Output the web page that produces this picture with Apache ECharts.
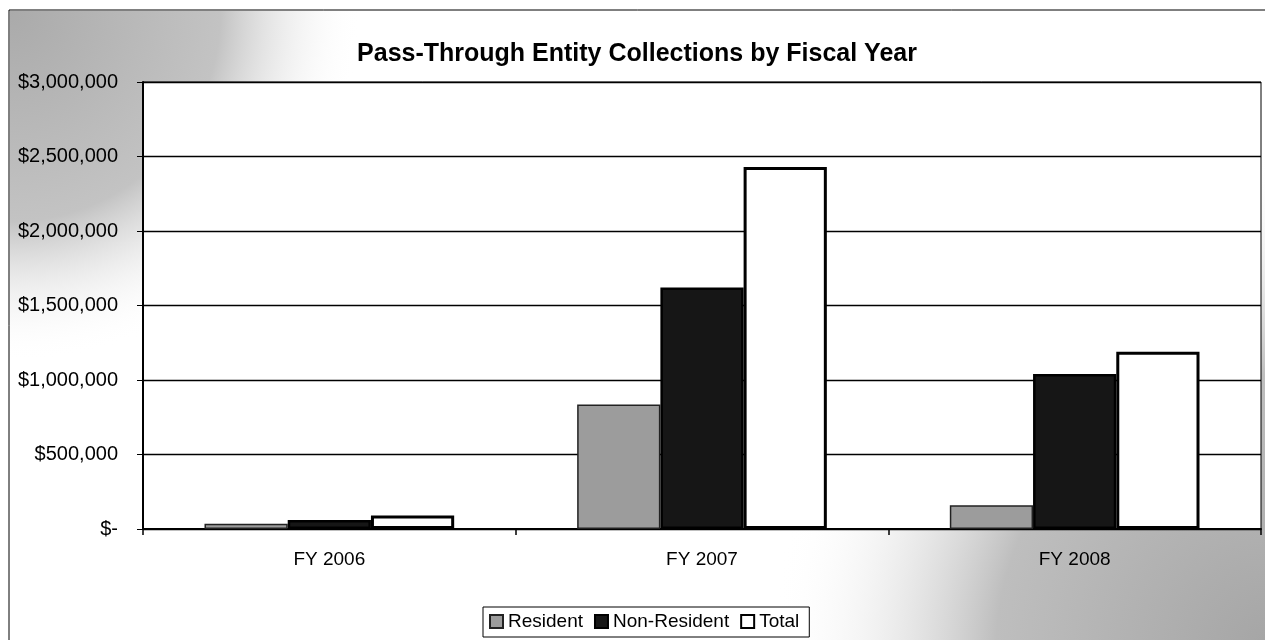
<!DOCTYPE html>
<html>
<head>
<meta charset="utf-8">
<script src="https://cdn.jsdelivr.net/npm/echarts@6/dist/echarts.min.js"></script>
<style>html,body{margin:0;padding:0;background:#fff;}#c{width:1265px;height:640px;}</style>
</head>
<body>
<div id="c"></div>
<script>
const categories = ['FY 2006', 'FY 2007', 'FY 2008'];
const resident = [35000, 835000, 160000];
const nonResident = [60000, 1620000, 1040000];
const total = [90000, 2430000, 1190000];
const yTicks = [0, 500000, 1000000, 1500000, 2000000, 2500000, 3000000];

const chart = echarts.init(document.getElementById('c'));
const font = 'Liberation Sans, Arial, sans-serif';
function money(v) {
  if (v === 0) return '$-';
  return '$' + v.toLocaleString('en-US');
}
chart.setOption({
  animation: false,
  backgroundColor: '#fff',
  graphic: [
    {
      type: 'rect', z: -10, silent: true,
      shape: { x: 9, y: 10, width: 1262, height: 640 },
      style: { fill: '#fff', stroke: '#000', lineWidth: 1 }
    },
    {
      type: 'rect', z: -9, silent: true,
      shape: { x: 10, y: 11, width: 1260, height: 638 },
      style: {
        fill: new echarts.graphic.RadialGradient(1, 1, 0.78, [
          { offset: 0, color: 'rgba(165,165,165,1)' },
          { offset: 0.55, color: 'rgba(190,190,190,1)' },
          { offset: 1, color: 'rgba(255,255,255,0)' }
        ])
      }
    },
    {
      type: 'rect', z: -8, silent: true,
      shape: { x: 10, y: 11, width: 1260, height: 638 },
      style: {
        fill: new echarts.graphic.RadialGradient(0, 0, 0.55, [
          { offset: 0, color: 'rgba(170,170,170,1)' },
          { offset: 0.6, color: 'rgba(195,195,195,1)' },
          { offset: 1, color: 'rgba(255,255,255,0)' }
        ])
      }
    }
  ],
  title: {
    text: 'Pass-Through Entity Collections by Fiscal Year',
    left: 632, top: 37, textAlign: 'center',
    textStyle: { fontFamily: font, fontSize: 25, fontWeight: 'bold', color: '#000' }
  },
  legend: {
    data: ['Resident', 'Non-Resident', 'Total'],
    left: 483, top: 607,
    orient: 'horizontal',
    icon: 'rect',
    itemWidth: 13, itemHeight: 13, itemGap: 11,
    padding: [5, 10, 6, 6],
    borderColor: '#000', borderWidth: 1,
    backgroundColor: '#fff',
    textStyle: { fontFamily: font, fontSize: 19, color: '#000' }
  },
  grid: {
    left: 143, right: 4, top: 82, bottom: 111,
    show: true, backgroundColor: '#fff', borderColor: '#000', borderWidth: 1
  },
  xAxis: {
    type: 'category',
    data: categories,
    axisLine: { lineStyle: { color: '#000', width: 2 } },
    axisTick: { show: true, length: 6, lineStyle: { color: '#000', width: 1.5 } },
    axisLabel: { margin: 21, fontFamily: font, fontSize: 19, color: '#000' }
  },
  yAxis: {
    type: 'value',
    min: yTicks[0], max: yTicks[yTicks.length - 1], interval: yTicks[1] - yTicks[0],
    axisLine: { show: true, lineStyle: { color: '#000', width: 2 } },
    axisTick: { show: true, length: 6, lineStyle: { color: '#000' } },
    splitLine: { lineStyle: { color: '#000', width: 1.3 } },
    axisLabel: { margin: 25, fontFamily: font, fontSize: 20, color: '#000', formatter: money }
  },
  series: [
    {
      name: 'Resident', type: 'bar', data: resident,
      barCategoryGap: '33%', barGap: '0%',
      itemStyle: { color: '#9c9c9c', borderColor: '#222', borderWidth: 1.5 }
    },
    {
      name: 'Non-Resident', type: 'bar', data: nonResident,
      barCategoryGap: '33%', barGap: '0%',
      itemStyle: { color: '#161616', borderColor: '#000', borderWidth: 2.5 }
    },
    {
      name: 'Total', type: 'bar', data: total,
      barCategoryGap: '33%', barGap: '0%',
      itemStyle: { color: '#ffffff', borderColor: '#000', borderWidth: 3 }
    }
  ]
});
</script>
</body>
</html>
